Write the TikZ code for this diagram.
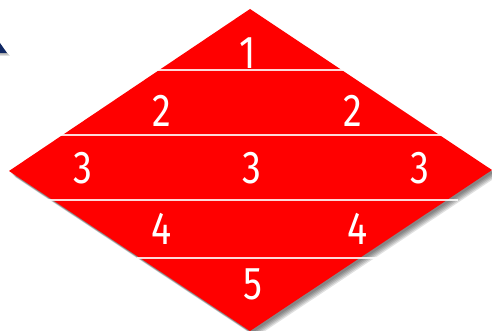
\documentclass[tikz,border=0pt]{standalone}
\usepackage{fontspec}
\setmainfont{Fira Sans}
\newfontfamily\numfont[FakeStretch=0.82]{Fira Sans}
\begin{document}
\begin{tikzpicture}[x=1pt,y=-1pt,
  num/.style={text=white,font=\numfont\fontsize{46}{46}\selectfont,inner sep=0pt},
  band/.style={draw=white,draw opacity=0.85,line width=1.2pt},
  shadowfill/.style={fill=black,fill opacity=0.12}]
\useasboundingbox (0,0) rectangle (492,331);
% shadows
\foreach \d in {2,3,4,5,6}{
  \fill[shadowfill] (250+\d,9+\d) -- (492+\d,170+\d) -- (250+\d,331+\d) -- (9+\d,171+\d) -- cycle;
}
\foreach \d in {1,2,3}{
  \fill[shadowfill] (0,43+\d) -- (7+\d,53+\d) -- (0,53+\d) -- cycle;
}
\fill[fill={rgb,255:red,16;green,40;blue,100}] (0,43) -- (7,53) -- (0,53) -- cycle;
% diamond
\fill[red] (250,9) coordinate (T) -- (492,170) coordinate (R) -- (250,331) coordinate (B) -- (9,171) coordinate (L) -- cycle;
% band lines
\coordinate (a1) at (157,70); \coordinate (b1) at (345,70);
\coordinate (a2) at (58,135); \coordinate (b2) at (442,135);
\coordinate (a3) at (48,200); \coordinate (b3) at (458,200);
\coordinate (a4) at (137,258); \coordinate (b4) at (385,258);
\draw[band] (a1) -- (b1);
\draw[band] (a2) -- (b2);
\draw[band] (a3) -- (b3);
\draw[band] (a4) -- (b4);
% numbers
\node[num] (n1) at (248,53) {1};
\node[num] (n2a) at (162,110.5) {2};
\node[num] (n2b) at (353,110.5) {2};
\node[num] (n3a) at (83,168) {3};
\node[num] (n3b) at (251.5,168) {3};
\node[num] (n3c) at (420,168) {3};
\node[num] (n4a) at (162,229) {4};
\node[num] (n4b) at (358,229) {4};
\node[num] (n5) at (253,284) {5};
\end{tikzpicture}
\end{document}
